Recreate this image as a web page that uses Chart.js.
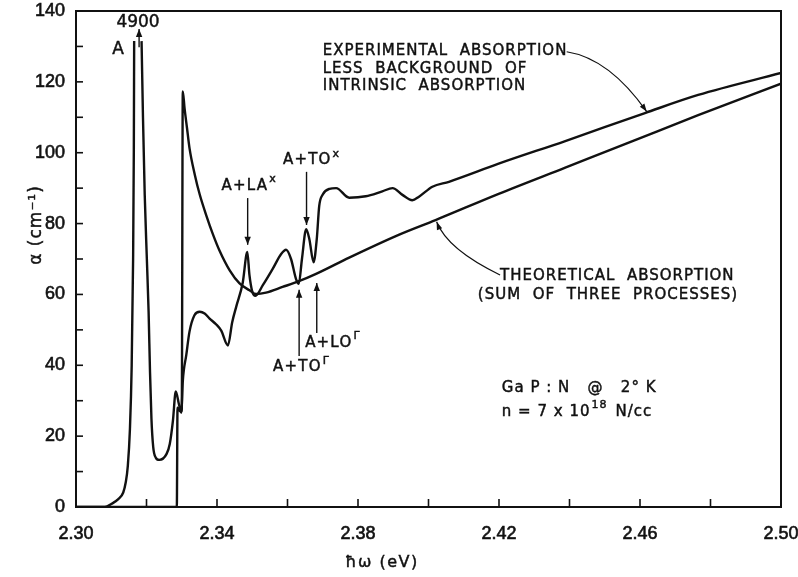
<!DOCTYPE html>
<html><head><meta charset="utf-8">
<script src="https://cdn.jsdelivr.net/npm/chart.js@4.4.1/dist/chart.umd.min.js"></script>
<style>html,body{margin:0;padding:0;background:#fff;}#wrap{width:798px;height:577px;}</style>
</head><body><div id="wrap"><canvas id="c" width="798" height="577"></canvas></div>
<script>
// Experimental absorption (less intrinsic background); null = off-scale gap of the A line (4900)
const expEnergy = [2.300,2.3082,2.3101,2.3120,2.3134,2.3141,2.3147,2.3153,2.3158,2.3162,2.3164,2.3165,2.3175,2.3186,2.3190,2.3195,2.3201,2.3206,2.3210,2.3214,2.3219,2.3226,2.3236,2.3257,2.3266,2.3275,2.3283,2.3292,2.3299,2.3303,2.3313,2.3322,2.3336,2.3351,2.3365,2.3379,2.3398,2.3412,2.3431,2.3443,2.3455,2.3473,2.3486,2.3492,2.3500,2.3509,2.3530,2.3558,2.3582,2.3596,2.3610,2.3624,2.3632,2.3641,2.3653,2.3662,2.3674,2.3683,2.3690,2.3700,2.3719,2.3738,2.3775,2.3822,2.3869,2.3898,2.3926,2.3954,2.3973,2.4011,2.4058,2.4199,2.4388,2.4614,2.4765,2.5000];
const expAlpha  = [0,0,0.9,2.2,4.1,6.9,11.6,22,40,70,100,131.5,null,131.5,110,88,70,55,38,25,17,14,13.3,15.0,17.8,24.4,32.6,29.0,26.6,35.5,43.0,49.5,54.1,55.1,54.6,53.2,51.5,49.8,45.6,52.1,56.7,63.3,72.0,65.5,60.8,59.6,62.6,67.2,71.4,72.6,70.0,64.4,63.0,70.0,78.4,75.6,69.1,75.6,85.0,88.2,89.8,90.0,87.3,87.7,89.1,90.0,88.1,86.6,87.6,90.4,91.8,96.9,103.3,111.2,116.3,122.5];
// Theoretical absorption (sum of three processes)
const theoEnergy = [2.300,2.3286,2.3288,2.3296,2.3300,2.3303,2.3308,2.3315,2.3322,2.3337,2.3351,2.3370,2.3388,2.3407,2.3436,2.3464,2.3492,2.3511,2.3539,2.3586,2.3634,2.3681,2.3775,2.3917,2.4020,2.4199,2.4388,2.4577,2.4765,2.5000];
const theoAlpha  = [0,0,28,27,27,117.3,112.5,106.9,101.3,93.8,88.2,82.2,77.1,72.4,66.8,63.1,61.2,60.1,60.5,62.1,63.8,65.8,70.4,76.9,81.0,88.4,95.8,103.2,110.6,119.5];
const xTickLabels = ['2.30','2.34','2.38','2.42','2.46','2.50'];
const yTickLabels = ['0','20','40','60','80','100','120','140'];
const xTitle = 'ħω (eV)';
const yTitle = 'α (cm⁻¹)';

const toPts = (xs, ys) => xs.map((x, i) => ({x: x, y: ys[i]}));
const INK = '#111';
const TXT = '"DejaVu Sans", sans-serif';

function arrowHead(ctx, x1, y1, x2, y2, len, wid) {
  const a = Math.atan2(y2 - y1, x2 - x1);
  ctx.beginPath();
  ctx.moveTo(x2, y2);
  ctx.lineTo(x2 - len*Math.cos(a) + wid*Math.sin(a), y2 - len*Math.sin(a) - wid*Math.cos(a));
  ctx.lineTo(x2 - len*Math.cos(a) - wid*Math.sin(a), y2 - len*Math.sin(a) + wid*Math.cos(a));
  ctx.closePath(); ctx.fill();
}
function boldText(ctx, t, x, y) { ctx.fillText(t, x, y); ctx.lineWidth = 0.45; ctx.strokeText(t, x, y); }
function runText(ctx, x, y, parts, size, spacing) {
  let cx = x;
  parts.forEach(p => {
    const s = p.sup ? Math.round(size*0.72) : size;
    ctx.font = s + 'px ' + TXT;
    ctx.letterSpacing = spacing + 'px';
    ctx.textAlign = 'left'; ctx.textBaseline = 'middle';
    const yy = p.sup ? y - size*0.45 : y;
    boldText(ctx, p.t, cx, yy);
    cx += ctx.measureText(p.t).width + (p.gap || 0);
  });
}

const decor = {
  id: 'decor',
  afterDraw(chart) {
    const {ctx, chartArea: a, scales: {x, y}} = chart;
    const X = v => x.getPixelForValue(v), Y = v => y.getPixelForValue(v);
    ctx.save();
    ctx.strokeStyle = INK; ctx.fillStyle = INK;
    ctx.lineWidth = 2;
    ctx.strokeRect(a.left, a.top, a.right - a.left, a.bottom - a.top);
    ctx.lineWidth = 1.6;
    x.ticks.forEach(t => { const p = X(t.value); ctx.beginPath(); ctx.moveTo(p, a.bottom); ctx.lineTo(p, a.bottom - 8); ctx.stroke(); });
    y.ticks.forEach(t => { const p = Y(t.value); ctx.beginPath(); ctx.moveTo(a.left, p); ctx.lineTo(a.left + 7, p); ctx.stroke(); });

    const arrows = [[2.3179,129.8,134.9],[2.3487,87.2,74.0],[2.3654,94.6,79.6],[2.3633,42.6,61.3],[2.3683,49.1,63.2]];
    ctx.lineWidth = 1.4;
    arrows.forEach(([e, a0, a1]) => {
      const px = X(e), y0 = Y(a0), y1 = Y(a1);
      ctx.beginPath(); ctx.moveTo(px, y0); ctx.lineTo(px, y1); ctx.stroke();
      arrowHead(ctx, px, y0, px, y1, 8, 3.2);
    });
    const curves = [[[2.4392,128.5],[2.4513,126.6],[2.4619,111.6]],[[2.4203,65.5],[2.4054,72.65],[2.4023,80.5]]];
    ctx.lineWidth = 1.2;
    curves.forEach(([s, c, e]) => {
      ctx.beginPath(); ctx.moveTo(X(s[0]), Y(s[1])); ctx.quadraticCurveTo(X(c[0]), Y(c[1]), X(e[0]), Y(e[1])); ctx.stroke();
      arrowHead(ctx, X(c[0]), Y(c[1]), X(e[0]), Y(e[1]), 8, 2.8);
    });

    // axis titles
    ctx.textAlign = 'center'; ctx.textBaseline = 'middle'; ctx.letterSpacing = '1.5px';
    ctx.font = '16px ' + TXT;
    boldText(ctx, xTitle, X(2.3868), x.bottom - 14);
    ctx.save();
    ctx.translate(y.left + 37, Y(79.6)); ctx.rotate(-Math.PI/2);
    ctx.font = '17px ' + TXT; ctx.letterSpacing = '1px';
    boldText(ctx, yTitle, 0, 0);
    ctx.restore();

    ctx.letterSpacing = '0px';
    ctx.textAlign = 'center'; ctx.textBaseline = 'middle';
    ctx.font = '17px ' + TXT;
    boldText(ctx, '4900', X(2.3176), Y(136.8));
    boldText(ctx, 'A', X(2.3119), Y(129.2));
    runText(ctx, X(2.3413), Y(90.6), [{t:'A+LA', gap:1},{t:'x', sup:true}], 15, 1.2);
    runText(ctx, X(2.3587), Y(97.8), [{t:'A+TO', gap:1},{t:'x', sup:true}], 15, 1.2);
    runText(ctx, X(2.3559), Y(39.4), [{t:'A+TO', gap:1},{t:'Γ', sup:true}], 15, 1.2);
    runText(ctx, X(2.3650), Y(46.4), [{t:'A+LO', gap:1},{t:'Γ', sup:true}], 15, 1.2);
    runText(ctx, X(2.3700), Y(128.7), [{t:'EXPERIMENTAL  ABSORPTION'}], 15, 1);
    runText(ctx, X(2.3700), Y(123.7), [{t:'LESS  BACKGROUND  OF'}], 15, 1);
    runText(ctx, X(2.3700), Y(118.9), [{t:'INTRINSIC  ABSORPTION'}], 15, 1);
    runText(ctx, X(2.4203), Y(65.2), [{t:'THEORETICAL  ABSORPTION'}], 15, 1);
    runText(ctx, X(2.4140), Y(59.8), [{t:'(SUM  OF  THREE  PROCESSES)'}], 15, 1);
    runText(ctx, X(2.4208), Y(33.6), [{t:'Ga P : N   @   2° K'}], 15, 1);
    runText(ctx, X(2.4208), Y(26.8), [{t:'n = 7 x 10', gap:1},{t:'18', sup:true, gap:8},{t:'N/cc'}], 15, 1);
    ctx.restore();
  }
};

new Chart(document.getElementById('c'), {
  type: 'line',
  data: {
    datasets: [
      {label: 'Experimental', data: toPts(expEnergy, expAlpha), borderColor: INK, borderWidth: 2.4, pointRadius: 0, fill: false, spanGaps: false, cubicInterpolationMode: 'monotone'},
      {label: 'Theoretical', data: toPts(theoEnergy, theoAlpha), borderColor: INK, borderWidth: 2.4, pointRadius: 0, fill: false, cubicInterpolationMode: 'monotone'}
    ]
  },
  options: {
    responsive: false, animation: false, devicePixelRatio: 1,
    layout: {padding: {left: 0, right: 17, top: 11, bottom: 0}},
    plugins: {legend: {display: false}, tooltip: {enabled: false}},
    scales: {
      x: {
        type: 'linear', min: 2.30, max: 2.50,
        afterFit: s => { s.height = 70; s.paddingLeft = 0; s.paddingRight = 0; },
        grid: {display: false, drawTicks: false}, border: {display: false},
        ticks: {stepSize: 0.02, autoSkip: false, maxRotation: 0, padding: 16, color: INK,
          textStrokeColor: INK, textStrokeWidth: 0.6,
          font: {family: '"Liberation Sans", sans-serif', size: 18},
          callback: v => { const s = (Math.round(v*100)/100).toFixed(2); return xTickLabels.includes(s) ? s : ''; }},
        title: {display: false}
      },
      y: {
        min: 0, max: 140,
        afterFit: s => { s.width = 76; s.paddingTop = 0; s.paddingBottom = 0; },
        grid: {display: false, drawTicks: false}, border: {display: false},
        ticks: {stepSize: 10, autoSkip: false, padding: 11, color: INK,
          textStrokeColor: INK, textStrokeWidth: 0.6,
          font: {family: '"Liberation Sans", sans-serif', size: 18},
          callback: v => { const s = String(Math.round(v)); return yTickLabels.includes(s) ? s : ''; }},
        title: {display: false}
      }
    }
  },
  plugins: [decor]
});
</script></body></html>
